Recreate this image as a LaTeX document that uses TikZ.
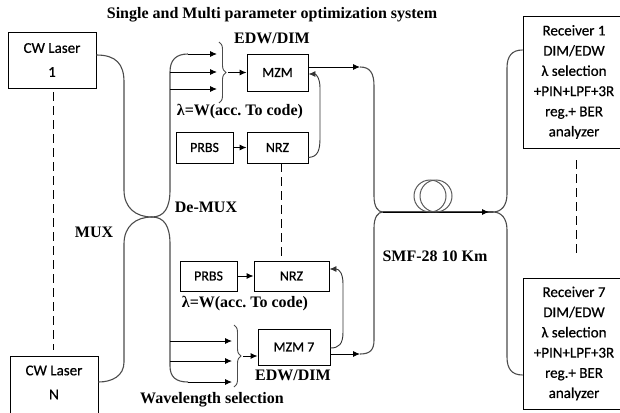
\documentclass[tikz,border=0pt]{standalone}
\usepackage{fontspec}
\setmainfont{Liberation Serif}
\newfontfamily\boxfont[FakeBold=0.6]{Carlito}
\usetikzlibrary{arrows.meta,decorations.pathreplacing,calc}
\frenchspacing
\begin{document}
\begin{tikzpicture}[x=1pt,y=-1pt,
  box/.style={draw,line width=0.9pt,inner sep=0pt,font=\boxfont\fontsize{14}{17}\selectfont,align=center},
  lbox/.style={box,font=\boxfont\fontsize{15}{19}\selectfont},
  rbox/.style={box,font=\boxfont\fontsize{15}{20.2}\selectfont},
  lbl/.style={font=\bfseries\fontsize{16}{18}\selectfont,inner sep=0pt},
  fib/.style={line width=1.1pt,draw=black!70},
  arr/.style={line width=0.9pt,-{Latex[length=7pt,width=6pt]}},
  dsh/.style={line width=0.8pt,dash pattern=on 9pt off 5pt},
  brc/.style={line width=0.9pt,draw=black!70,decorate,decoration={brace,amplitude=7pt}}]
\useasboundingbox (0,0) rectangle (620,412);

% boxes
\node[lbox,minimum width=88pt,minimum height=56pt] (laser1) at (52,60) {CW Laser\\[5pt]1};
\node[lbox,minimum width=88pt,minimum height=72pt] (laserN) at (54,392)
  {\raisebox{8.5pt}[\height][\depth]{\begin{tabular}{@{}c@{}}CW Laser\\[5pt]N\end{tabular}}};
\node[box,minimum width=61pt,minimum height=37pt] (mzm) at (277.5,72.5) {MZM};
\node[box,minimum width=57pt,minimum height=31pt] (prbs1) at (204.5,147.5) {PRBS};
\node[box,minimum width=61pt,minimum height=31pt] (nrz1) at (277.5,147.5) {NRZ};
\node[box,minimum width=57pt,minimum height=30pt] (prbs2) at (208.5,276) {PRBS};
\node[box,minimum width=75pt,minimum height=30pt] (nrz2) at (291.5,276) {NRZ};
\node[box,minimum width=72pt,minimum height=36pt] (mzm7) at (294,347) {MZM 7};
\node[rbox,minimum width=102pt,minimum height=132pt] (rx1) at (574,82)
  {Receiver 1\\DIM/EDW\\λ selection\\+PIN+LPF+3R\\reg.+ BER\\analyzer};
\node[rbox,minimum width=102pt,minimum height=131pt] (rx7) at (574,343.5)
  {Receiver 7\\DIM/EDW\\λ selection\\+PIN+LPF+3R\\reg.+ BER\\analyzer};

% labels
\node[lbl] (title) at (272,15) {Single and Multi parameter optimization system};
\node[lbl] (edw1) at (272,38) {EDW/DIM};
\node[lbl] (lam1) at (240,112) {λ=W(acc. To code)};
\node[lbl] (demux) at (206,207) {De-MUX};
\node[lbl] (mux) at (94,232) {MUX};
\node[lbl] (lam2) at (245,304) {λ=W(acc. To code)};
\node[lbl] (edw2) at (293,375) {EDW/DIM};
\node[lbl] (wsel) at (212,400) {Wavelength selection};
\node[lbl] (smf) at (435,256) {SMF-28 10 Km};

% junctions
\coordinate (J1) at (152,217);
\coordinate (J2) at (383,212);
\coordinate (J3) at (493,212);

% MUX / De-MUX coupler
\draw[fib] ($(laser1.east)+(0,-5)$) .. controls (116,55) and (124,64) .. (124,82) -- (124,190)
  .. controls (124,208) and (136,217) .. (J1);
\draw[fib] (J1) .. controls (164,217) and (170,208) .. (170,190) -- (170,72)
  .. controls (170,60) and (176,54) .. (188,54);
\draw[fib] (J1) .. controls (136,217) and (124,226) .. (124,244) -- (124,362)
  .. controls (124,376) and (112,382) .. ($(laserN.east)+(0,-10)$);
\draw[fib] (J1) .. controls (164,217) and (170,226) .. (170,244) -- (170,366)
  .. controls (170,377) and (176,382) .. (188,382);

% upper wavelength selection
\coordinate (ua0) at (188,54);
\coordinate (ub0) at (170,72);
\coordinate (uc0) at (170,89);
\draw[arr] (ua0) -- (217,54);
\draw[arr] (ub0) -- (217,72);
\draw[arr] (uc0) -- (217,89);
\draw[brc] (219,42) -- (219,103);
\coordinate (ubt) at (228,72.5);
\draw[arr] (ubt) -- (mzm.west);
\draw[arr] (prbs1) -- (nrz1);
\draw[arr,draw=black!80] ($(nrz1.south east)+(0,-6)$) .. controls (318,157) and (320,150) .. (320,138)
  -- (320,88) .. controls (320,78) and (316,74) .. ($(mzm.east)+(0,1.5)$);

% lower wavelength selection
\coordinate (la0) at (188,382);
\coordinate (lb0) at (170,341);
\coordinate (lc0) at (170,361);
\draw[arr] (la0) -- (232,382);
\draw[arr] (lb0) -- (232,341);
\draw[arr] (lc0) -- (232,361);
\draw[brc] (234,325) -- (234,387);
\coordinate (lbt) at (243,356);
\draw[arr] (lbt) -- (mzm7.west |- lbt);
\draw[arr] (prbs2) -- (nrz2);
\draw[arr,draw=black!80] ($(mzm7.east)+(0,1)$) .. controls (339,348) and (343,344) .. (343,332)
  -- (343,284) .. controls (343,273) and (339,269) .. (nrz2.east |- 0,269);

% modulator outputs to fiber
\coordinate (uo) at (360,67);
\coordinate (lo) at (360,354);
\draw[arr] (mzm.east |- uo) -- (uo);
\draw[arr] (mzm7.east |- lo) -- (lo);
\draw[fib] (uo) .. controls (370,67) and (374,73) .. (374,86) -- (374,196)
  .. controls (374,207) and (378,212) .. (J2);
\draw[fib] (J2) .. controls (378,212) and (374,217) .. (374,228) -- (374,340)
  .. controls (374,350) and (370,354) .. (lo);

% fiber span
\draw[fib] (J2) -- (J3);
\coordinate (fa) at (489,212);
\draw[arr] (J2) -- (fa);
\draw[line width=1pt,draw=black!65] (430,196) circle[radius=16pt];
\draw[line width=1pt,draw=black!65] (436,196) circle[radius=16pt];

% receivers
\draw[fib] (J3) .. controls (501,212) and (507,206) .. (507,194) -- (507,68)
  .. controls (507,56) and (512,50) .. (rx1.west |- 0,50);
\draw[fib] (J3) .. controls (501,212) and (507,218) .. (507,230) -- (507,357)
  .. controls (507,369) and (512,375) .. (rx7.west |- 0,375);

% dashed continuation lines
\coordinate (d1a) at ($(laser1.south)+(1,4)$);
\coordinate (d1b) at ($(laserN.north)+(-1,-6)$);
\draw[dsh] (d1a) -- (d1b);
\coordinate (d2a) at ($(nrz1.south)+(3.5,0)$);
\coordinate (d2b) at ($(nrz2.north)+(-10.5,0)$);
\draw[dsh] (d2a) -- (d2b);
\coordinate (d3a) at ($(rx1.south)+(2,12)$);
\coordinate (d3b) at ($(rx7.north)+(2,-21)$);
\draw[dsh] (d3a) -- (d3b);
\end{tikzpicture}
\end{document}
